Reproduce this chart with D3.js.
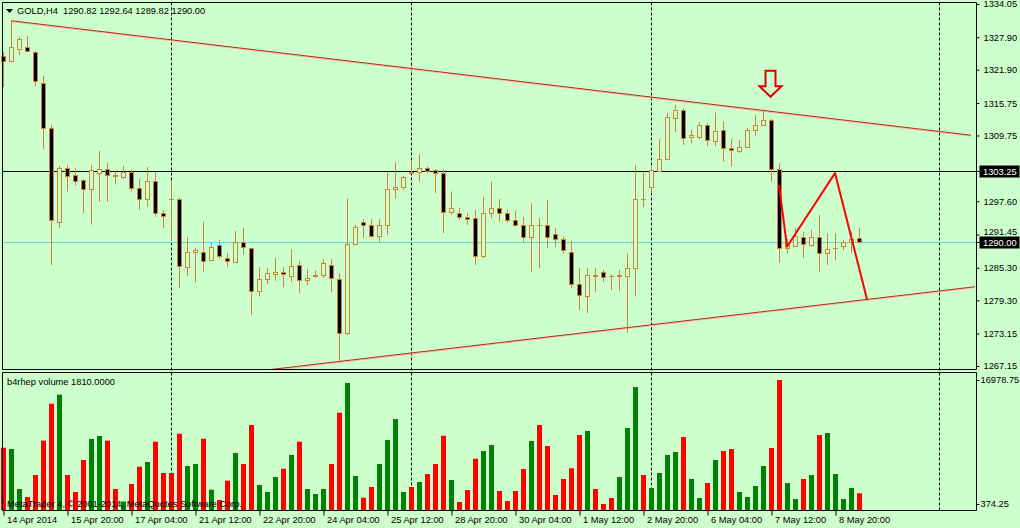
<!DOCTYPE html>
<html><head><meta charset="utf-8">
<script src="https://cdn.jsdelivr.net/npm/d3@7"></script>
<style>
html,body{margin:0;padding:0;background:#CCFFCC;}
svg{display:block;}
text{font-family:"Liberation Sans",Arial,sans-serif;font-size:9.3px;fill:#000;white-space:pre;}
</style></head><body>
<svg id="chart" width="1020" height="528"></svg>
<script>
// ---------- data ----------
const symbolTitle = "GOLD,H4  1290.82 1292.64 1289.82 1290.00";
const indicatorTitle = "b4rhep volume 1810.0000";
const copyright = "MetaTrader 4, \u00A9 2001-2014, MetaQuotes Software Corp.";

const openP = [1324.4,1323.6,1325.7,1326.1,1325.2,1319.5,1311.1,1293.8,1303.7,1302.4,
1301.5,1299.8,1302.9,1303.5,1302.4,1302.0,1303.0,1300.0,1298.0,1301.3,
1295.4,1298.1,1298.0,1285.5,1288.2,1288.3,1286.7,1289.6,1287.2,1286.4,
1290.1,1288.9,1281.1,1283.2,1284.1,1284.5,1283.8,1285.8,1283.0,1283.7,
1284.0,1285.9,1283.2,1273.2,1289.7,1293.8,1293.2,1291.2,1293.3,1299.8,
1300.3,1303.0,1303.0,1303.7,1303.3,1302.9,1295.7,1295.4,1294.7,1294.5,
1287.4,1295.4,1296.4,1295.4,1294.1,1293.3,1290.9,1293.3,1293.2,1291.6,
1290.6,1288.3,1282.3,1280.1,1284.0,1284.5,1283.8,1283.8,1283.8,1285.2,
1298.1,1300.2,1303.1,1305.4,1312.9,1314.5,1309.4,1309.5,1311.7,1308.8,
1310.8,1307.4,1306.9,1307.7,1310.8,1311.7,1312.6,1303.5,1288.9,1289.3,
1291.0,1289.5,1291.0,1288.1,1288.9,1289.3,1290.1,1290.82];
const highP = [1325.2,1331.0,1328.0,1328.1,1325.4,1320.8,1311.7,1304.1,1304.3,1303.7,
1301.7,1304.3,1306.9,1304.7,1303.1,1304.1,1303.4,1301.8,1303.9,1303.0,
1295.9,1301.5,1298.3,1290.9,1289.0,1293.8,1289.9,1290.4,1288.0,1292.1,
1292.7,1289.0,1285.4,1285.2,1287.1,1285.4,1288.7,1286.6,1285.0,1284.8,
1286.9,1286.9,1284.3,1298.1,1293.2,1294.3,1294.3,1294.3,1303.1,1304.8,
1302.3,1305.2,1306.3,1304.0,1303.5,1303.5,1299.4,1296.4,1295.4,1296.0,
1298.4,1301.2,1298.0,1296.1,1295.9,1294.7,1297.2,1294.5,1297.8,1292.6,
1291.1,1290.3,1285.2,1285.2,1285.2,1284.9,1284.1,1284.9,1287.9,1304.3,
1303.1,1304.0,1309.1,1313.9,1315.4,1314.8,1310.8,1312.3,1312.0,1314.0,
1312.3,1309.2,1308.9,1311.2,1313.5,1314.6,1312.8,1304.6,1290.6,1292.6,
1292.0,1292.3,1295.1,1291.7,1291.7,1290.4,1292.0,1292.64];
const lowP = [1318.7,1323.4,1324.6,1325.2,1318.8,1307.2,1285.8,1292.7,1299.4,1300.5,
1295.4,1293.3,1297.5,1297.5,1300.7,1301.8,1299.4,1296.0,1296.6,1294.7,
1292.7,1290.4,1281.5,1283.8,1282.6,1284.6,1286.6,1286.9,1285.5,1286.3,
1287.7,1276.6,1280.0,1282.3,1282.9,1281.7,1282.7,1280.6,1282.1,1283.4,
1283.4,1280.8,1268.0,1272.9,1289.5,1290.8,1290.9,1290.1,1291.4,1298.1,
1299.6,1302.8,1301.2,1302.8,1299.1,1291.7,1295.1,1294.1,1293.2,1285.8,
1287.1,1294.5,1293.8,1293.6,1293.0,1290.1,1284.6,1285.2,1288.9,1289.2,
1287.9,1281.5,1277.5,1276.9,1280.9,1282.7,1281.2,1281.1,1273.3,1280.0,
1296.5,1299.2,1303.0,1305.2,1310.4,1308.0,1308.3,1309.1,1307.8,1307.8,
1304.9,1304.0,1306.5,1307.6,1309.7,1311.6,1301.2,1286.2,1287.9,1289.1,
1287.1,1289.2,1284.6,1285.8,1286.7,1288.6,1288.0,1289.82];
const closeP = [1323.5,1326.1,1327.5,1325.3,1319.8,1311.1,1294.1,1303.7,1302.3,1301.4,
1299.8,1303.4,1303.5,1302.5,1302.3,1303.0,1300.0,1298.0,1301.3,1295.4,
1294.9,1298.0,1285.6,1288.2,1288.5,1286.6,1289.2,1287.4,1286.6,1290.1,
1289.1,1281.1,1283.2,1284.3,1284.5,1284.1,1285.6,1283.0,1283.4,1284.0,
1286.1,1283.4,1273.2,1289.7,1292.8,1293.3,1291.2,1293.3,1299.8,1300.3,
1302.0,1302.9,1303.7,1303.2,1302.8,1295.7,1296.3,1294.7,1294.3,1287.5,
1295.4,1296.4,1295.4,1294.1,1293.3,1290.9,1293.3,1293.2,1290.9,1290.6,
1288.5,1282.3,1280.3,1284.0,1283.8,1283.6,1283.7,1283.9,1285.2,1298.1,
1298.0,1303.4,1305.4,1313.2,1314.5,1309.2,1309.8,1311.7,1308.9,1310.5,
1307.4,1307.1,1307.7,1310.8,1311.7,1312.6,1303.5,1288.9,1289.8,1291.2,
1289.7,1291.0,1288.1,1288.7,1288.9,1290.1,1290.6,1290.00];
const volume = [7917,7739,2383,1311,4257,8854,13809,15014,4257,1981,
6266,9078,9479,8854,2383,700,3052,5373,5998,8720,
4525,4525,9791,5462,5730,9122,2293,910,3498,7203,
5730,10952,2918,1981,3989,5105,6935,8720,2383,1713,
2383,5730,12603,16576,4123,1222,2650,5730,8944,11756,
1981,2650,3320,4391,5730,9523,3588,642,2249,6444,
7471,8274,2115,776,2115,5061,8810,10952,8140,1579,
3722,5150,9613,10149,2383,374.25,1177,3989,10550,16040,
4257,2516,4525,6935,7337,9345,3722,1177,3186,6266,
7471,7739,1981,1311,2784,5462,7872,16978.75,3186,1044,
3722,4257,9613,9881,4391,1044,2516,1810];

const timeLabels = ["14 Apr 2014","15 Apr 20:00","17 Apr 04:00","21 Apr 12:00","22 Apr 20:00",
"24 Apr 04:00","25 Apr 12:00","28 Apr 20:00","30 Apr 04:00","1 May 12:00","2 May 20:00",
"6 May 04:00","7 May 12:00","8 May 20:00"];
const timeLabelBars = [0,8,16,24,32,40,48,56,64,72,80,88,96,104];
const priceTicks = [1334.05,1327.90,1321.90,1315.75,1309.75,1297.60,1291.45,1285.30,1279.30,1273.15,1267.15];
const volumeTicks = [16978.75,374.25];
const separatorBars = [21,51,81,117];
const levelPrices = [1303.25,1290.00];
const upperTrend = [[1,1330.96],[121,1309.8]];
const lowerTrend = [[30,1265.9],[121.5,1281.8]];
const zigzag = [[97,1300.6],[98,1289.2],[104,1302.8],[108,1279.5]];
const arrowMark = [96,1316.9];

// ---------- layout ----------
const svg = d3.select("#chart");
const mainTop = 2.5, mainBottom = 369.5, volTop = 372.5, volBottom = 510.5, left = 2.5, right = 976.5;
const bg = "#CCFFCC", candleLine = "#C98637", trendColor = "#B5261C", bidColor = "#5ED7E6";

const x = d3.scaleLinear().domain([0,121]).range([3,971]);
const y = d3.scaleLinear().domain([1267.15,1334.05]).range([366,4]);
const yv = d3.scaleLinear().domain([374.25,16978.75]).range([504,380]);

svg.append("rect").attr("width",1020).attr("height",528).attr("fill",bg);

const defs = svg.append("defs");
defs.append("clipPath").attr("id","mainClip").append("rect")
  .attr("x",left).attr("y",mainTop).attr("width",right-left).attr("height",mainBottom-mainTop);

// separators (dashed verticals)
svg.append("g").selectAll("line").data(separatorBars).join("line")
  .attr("x1",d=>x(d)+0.5).attr("x2",d=>x(d)+0.5)
  .attr("y1",mainTop).attr("y2",volBottom)
  .attr("stroke","#000").attr("stroke-width",1).attr("stroke-dasharray","3,2");

// horizontal level lines
svg.append("g").selectAll("line").data(levelPrices).join("line")
  .attr("x1",left).attr("x2",right)
  .attr("y1",d=>Math.round(y(d))+0.5).attr("y2",d=>Math.round(y(d))+0.5)
  .attr("stroke",(d,i)=>i===0?"#000":bidColor).attr("stroke-width",1);

// trend lines
const main = svg.append("g").attr("clip-path","url(#mainClip)");
[upperTrend, lowerTrend].forEach(t=>{
  main.append("line").attr("x1",x(t[0][0])).attr("y1",y(t[0][1])+1)
    .attr("x2",x(t[1][0])).attr("y2",y(t[1][1])+1)
    .attr("stroke","#F6B9A4").attr("stroke-width",1);
  main.append("line").attr("x1",x(t[0][0])).attr("y1",y(t[0][1]))
    .attr("x2",x(t[1][0])).attr("y2",y(t[1][1]))
    .attr("stroke",trendColor).attr("stroke-width",1);
});

// candles
const idx = d3.range(openP.length);
const cg = svg.append("g");
cg.selectAll("line").data(idx).join("line")
  .attr("x1",i=>x(i)+0.5).attr("x2",i=>x(i)+0.5)
  .attr("y1",i=>y(highP[i])).attr("y2",i=>y(lowP[i]))
  .attr("stroke",candleLine).attr("stroke-width",1);
cg.selectAll("rect").data(idx).join("rect")
  .attr("x",i=>x(i)-1.5).attr("width",4)
  .attr("y",i=>Math.round(y(Math.max(openP[i],closeP[i])))+0.5)
  .attr("height",i=>Math.max(0.01,Math.round(y(Math.min(openP[i],closeP[i])))-Math.round(y(Math.max(openP[i],closeP[i])))))
  .attr("fill",i=>closeP[i]<openP[i]?"#000":bg)
  .attr("stroke",candleLine).attr("stroke-width",1);

// zigzag
svg.append("path").attr("d",d3.line().x(d=>x(d[0])).y(d=>y(d[1]))(zigzag))
  .attr("fill","none").attr("stroke","#FF0000").attr("stroke-width",2).attr("stroke-linejoin","round");

// arrow
const ax = x(arrowMark[0]) - 0.5, ay = y(arrowMark[1]);
const arrowPts = [[0,0],[-11,-10.5],[-5,-10.5],[-5,-26],[5,-26],[5,-10.5],[11,-10.5]];
svg.append("path").attr("d","M"+arrowPts.map(p=>[ax+p[0],ay+p[1]].join(",")).join("L")+"Z")
  .attr("fill",bg).attr("stroke","#E00000").attr("stroke-width",2).attr("stroke-linejoin","miter");

// volume bars
svg.append("g").selectAll("rect").data(idx).join("rect")
  .attr("x",i=>x(i)-2).attr("width",5)
  .attr("y",i=>yv(volume[i])).attr("height",i=>volBottom-0.5-yv(volume[i]))
  .attr("fill",i=>closeP[i]<openP[i]?"#FF0000":"#008000");

// frames
svg.append("path").attr("d",`M${left},${mainBottom}V${mainTop}H${right}V${mainBottom}H${left}`)
  .attr("fill","none").attr("stroke","#000");
svg.append("path").attr("d",`M${left},${volTop}H${right}V${volBottom}H${left}Z`)
  .attr("fill","none").attr("stroke","#000");

// right price axis
const pAxis = svg.append("g").attr("transform",`translate(${right},0)`)
  .call(d3.axisRight(y).tickValues(priceTicks).tickFormat(d3.format(".2f")).tickSize(3).tickPadding(4));
pAxis.select(".domain").remove();
pAxis.selectAll("line").attr("stroke","#000");
pAxis.selectAll("text").attr("font-family",null).attr("font-size",null).attr("fill","#000")
  .attr("y",d=>levelPrices.some(l=>y(l)>y(d) && y(l)-y(d)<12) ? -3 : 0);

// boxed level labels
const lv = svg.append("g").selectAll("g").data(levelPrices).join("g")
  .attr("transform",d=>`translate(${right},${Math.round(y(d))+0.5})`);
lv.append("line").attr("x1",0).attr("x2",3).attr("stroke","#000");
lv.append("rect").attr("x",3).attr("y",-6).attr("width",40).attr("height",12).attr("fill","#000");
lv.append("text").attr("x",6.5).attr("dy","0.35em").style("fill","#fff").text(d=>d3.format(".2f")(d));

// volume axis
const vAxis = svg.append("g").attr("transform",`translate(${right},0)`)
  .call(d3.axisRight(yv).tickValues(volumeTicks).tickFormat(d3.format(".2f")).tickSize(3).tickPadding(1));
vAxis.select(".domain").remove();
vAxis.selectAll("text").attr("font-family",null).attr("font-size",null).attr("fill","#000");

// bottom time axis
const tAxis = svg.append("g").attr("transform",`translate(0.5,${volBottom})`)
  .call(d3.axisBottom(x).tickValues(timeLabelBars).tickFormat((d,i)=>timeLabels[i]).tickSize(5));
tAxis.select(".domain").remove();
tAxis.selectAll("text").attr("font-family",null).attr("font-size",null).attr("fill","#000")
  .attr("text-anchor","start").attr("x",3).attr("y",12).attr("dy",null);

// titles
svg.append("path").attr("d","M6,9L13,9L9.5,13Z").attr("fill","#000");
svg.append("text").attr("x",17).attr("y",14).text(symbolTitle);
svg.append("text").attr("x",7).attr("y",385).text(indicatorTitle);
svg.append("text").attr("x",7).attr("y",506.5).text(copyright);
</script>
</body></html>
